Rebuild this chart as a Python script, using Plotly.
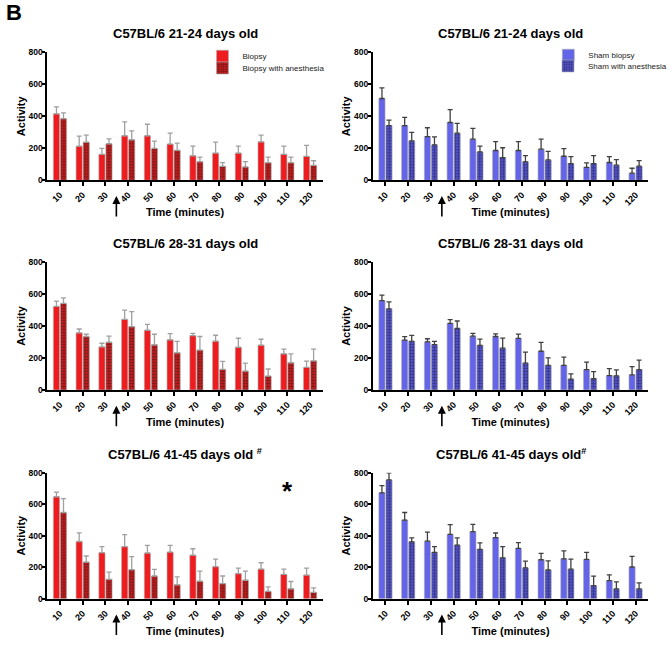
import plotly.graph_objects as go

times = ["10", "20", "30", "40", "50", "60", "70", "80", "90", "100", "110", "120"]

# Panel A: C57BL/6 21-24 days old (biopsy)
p1_biopsy = [415, 213, 162, 278, 278, 226, 153, 170, 170, 240, 162, 149]
p1_biopsy_err = [43, 63, 37, 87, 72, 68, 60, 68, 43, 42, 51, 69]
p1_anest = [385, 238, 228, 253, 199, 187, 116, 87, 83, 110, 110, 93]
p1_anest_err = [36, 44, 31, 56, 46, 45, 29, 23, 33, 35, 35, 29]

# Panel B: 21-24 days old (sham)
p2_sham = [511, 342, 273, 361, 257, 186, 186, 194, 150, 81, 111, 44]
p2_sham_err = [67, 51, 55, 80, 67, 56, 56, 63, 48, 28, 37, 31]
p2_anest = [342, 246, 221, 294, 177, 142, 115, 127, 104, 104, 94, 88]
p2_anest_err = [34, 53, 50, 61, 36, 61, 39, 53, 44, 50, 35, 35]

# Panel C: 28-31 days old (biopsy)
p3_biopsy = [522, 357, 269, 441, 373, 313, 340, 305, 267, 280, 226, 141]
p3_biopsy_err = [33, 24, 23, 58, 37, 39, 14, 37, 56, 37, 29, 39]
p3_anest = [541, 334, 298, 396, 282, 232, 249, 128, 118, 87, 170, 182]
p3_anest_err = [35, 14, 38, 93, 66, 71, 85, 50, 50, 44, 56, 73]

# Panel D: 28-31 days old (sham)
p4_sham = [558, 312, 300, 416, 336, 334, 322, 242, 154, 127, 90, 94]
p4_sham_err = [35, 21, 20, 23, 17, 17, 27, 55, 51, 47, 43, 52]
p4_anest = [507, 304, 283, 384, 279, 261, 168, 154, 68, 70, 88, 127]
p4_anest_err = [43, 37, 21, 47, 39, 63, 68, 47, 33, 45, 37, 60]

# Panel E: 41-45 days old (biopsy)
p5_biopsy = [647, 363, 292, 330, 290, 296, 276, 203, 159, 188, 154, 150]
p5_biopsy_err = [29, 55, 38, 77, 48, 42, 41, 48, 35, 40, 34, 44]
p5_anest = [547, 232, 123, 184, 144, 88, 111, 96, 117, 46, 63, 40]
p5_anest_err = [88, 39, 46, 83, 42, 50, 64, 48, 58, 29, 46, 29]

# Panel F: 41-45 days old (sham)
p6_sham = [672, 499, 365, 408, 425, 388, 319, 247, 253, 249, 114, 201]
p6_sham_err = [45, 48, 58, 62, 47, 29, 37, 41, 50, 45, 37, 68]
p6_anest = [754, 361, 294, 340, 313, 259, 195, 182, 187, 83, 62, 62]
p6_anest_err = [44, 25, 36, 46, 41, 71, 43, 58, 64, 60, 44, 38]

titles = ["C57BL/6 21-24 days old", "C57BL/6 21-24 days old",
          "C57BL/6 28-31 days old", "C57BL/6 28-31 days old",
          "C57BL/6 41-45 days old <sup>#</sup>", "C57BL/6 41-45 days old<sup>#</sup>"]

W, H = 672, 646
FONT = "Liberation Sans, Arial, sans-serif"
RED = "#ee1c1f"
RED_BG = "#d42222"
BLUE = "#6464e8"
BLUE_BG = "#5a5ad8"

panels = [
    (p1_biopsy, p1_biopsy_err, p1_anest, p1_anest_err, "Biopsy", "Biopsy with anesthesia", "red"),
    (p2_sham, p2_sham_err, p2_anest, p2_anest_err, "Sham biopsy", "Sham with anesthesia", "blue"),
    (p3_biopsy, p3_biopsy_err, p3_anest, p3_anest_err, "Biopsy", "Biopsy with anesthesia", "red"),
    (p4_sham, p4_sham_err, p4_anest, p4_anest_err, "Sham biopsy", "Sham with anesthesia", "blue"),
    (p5_biopsy, p5_biopsy_err, p5_anest, p5_anest_err, "Biopsy", "Biopsy with anesthesia", "red"),
    (p6_sham, p6_sham_err, p6_anest, p6_anest_err, "Sham biopsy", "Sham with anesthesia", "blue"),
]

# pixel layout of each plot area: (x0, x1) and (ytop, ybottom)
xcols = [(49, 333), (385, 669)]
yrows = [(48, 178), (261, 391), (475, 603)]

# one legend per entry so the entries can sit as tightly as in the original
legend_slots = {
    (0, 0): ("legend", 209, 52), (0, 1): ("legend2", 209, 64),
    (1, 0): ("legend3", 566, 51), (1, 1): ("legend4", 566, 62),
}

fig = go.Figure()
layout = {}
annotations = []

for i, (v1, e1, v2, e2, n1, n2, kind) in enumerate(panels):
    row, col = divmod(i, 2)
    k = i + 1
    xa = "x" if k == 1 else f"x{k}"
    ya = "y" if k == 1 else f"y{k}"
    if kind == "red":
        c1, fg, bg, ecol = RED, "#200606", RED_BG, "#a0a0a0"
    else:
        c1, fg, bg, ecol = BLUE, "#0c0c2c", BLUE_BG, "#404040"
    for j, (vals, errs, name) in enumerate([(v1, e1, n1), (v2, e2, n2)]):
        slot = legend_slots.get((i, j))
        marker = dict(color=c1 if j == 0 else bg, line=dict(color="#b0b0b0", width=0.6))
        if j == 1:
            marker["pattern"] = dict(shape=".", fgcolor=fg, bgcolor=bg, size=3, solidity=0.5)
        fig.add_trace(go.Bar(
            x=times, y=vals, name=name, xaxis=xa, yaxis=ya, marker=marker,
            error_y=dict(type="data", array=errs, arrayminus=[0] * len(errs), symmetric=False,
                         color=ecol, thickness=1.3, width=2.5),
            showlegend=slot is not None, legend=slot[0] if slot else "legend",
        ))

    x0, x1 = xcols[col]
    ytop, ybot = yrows[row]
    xkey = "xaxis" if k == 1 else f"xaxis{k}"
    ykey = "yaxis" if k == 1 else f"yaxis{k}"
    layout[xkey] = dict(
        domain=[x0 / W, x1 / W], anchor=ya, type="category",
        range=[-0.55, 11.55], showline=True, linecolor="black", linewidth=2,
        ticks="outside", ticklen=4, tickwidth=1.5, tickcolor="black",
        tickangle=-45, tickfont=dict(family=FONT, size=9, color="black", weight="bold"),
        showgrid=False, zeroline=False, fixedrange=True,
        title=dict(text="Time (minutes)", font=dict(family=FONT, size=11, color="black", weight="bold"), standoff=2),
    )
    layout[ykey] = dict(
        domain=[1 - ybot / H, 1 - ytop / H], anchor=xa,
        range=[0, 800], tickvals=[0, 200, 400, 600, 800],
        showline=True, linecolor="black", linewidth=2,
        ticks="outside", ticklen=3, tickwidth=1.5, tickcolor="black",
        tickfont=dict(family=FONT, size=8.5, color="black", weight="bold"),
        ticklabelstandoff=-2,
        showgrid=False, zeroline=False, fixedrange=True,
        title=dict(text="Activity", font=dict(family=FONT, size=11, color="black", weight="bold"), standoff=1),
    )
    # panel title
    annotations.append(dict(
        text=f"<b>{titles[i]}</b>", xref="paper", yref="paper",
        x=(x0 + x1) / 2 / W, y=1 - (ytop - 19) / H, xanchor="center", yanchor="middle",
        showarrow=False, font=dict(family=FONT, size=13, color="black"),
    ))
    # anesthesia arrow between 30 and 40
    tip = ybot + 16
    annotations.append(dict(
        x=2.48, y=1 - tip / H, xref=xa, yref="paper", text="",
        showarrow=True, arrowhead=2, arrowsize=1, arrowwidth=1.6, arrowcolor="black",
        ax=0, ay=22,
    ))

annotations.append(dict(text="<b>B</b>", xref="paper", yref="paper", x=4 / W, y=1 - 8 / H,
                        xanchor="left", yanchor="middle", showarrow=False,
                        font=dict(family=FONT, size=22, color="black")))
annotations.append(dict(text="<b>*</b>", xref="paper", yref="paper", x=297 / W, y=1 - 494 / H,
                        xanchor="center", yanchor="middle", showarrow=False,
                        font=dict(family=FONT, size=26, color="black")))

legend_font = dict(family=FONT, size=8, color="#222222")
legends = {}
for (i, j), (lname, lx, ly) in legend_slots.items():
    legends[lname] = dict(x=lx / W, y=1 - ly / H, xanchor="left", yanchor="middle",
                          font=legend_font, bgcolor="rgba(0,0,0,0)", itemwidth=30,
                          borderwidth=0)

fig.update_layout(
    width=W, height=H, margin=dict(l=0, r=0, t=0, b=0),
    paper_bgcolor="white", plot_bgcolor="white",
    barmode="group", bargap=0.38, bargroupgap=0.12,
    font=dict(family=FONT),
    annotations=annotations,
    **legends,
    **layout,
)

fig.write_html("out.html", config={"displayModeBar": False},
               post_script="document.body.style.margin='0';")
